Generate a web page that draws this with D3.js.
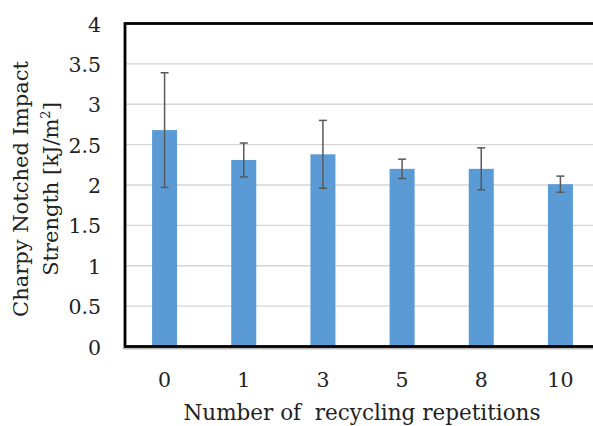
<!DOCTYPE html>
<html>
<head>
<meta charset="utf-8">
<script src="https://cdn.jsdelivr.net/npm/d3@7"></script>
<style>
  html, body { margin: 0; padding: 0; background: #fff; }
  svg { display: block; }
  text { font-family: "DejaVu Serif", "Liberation Serif", serif; fill: #222; }
</style>
</head>
<body>
<svg id="chart" width="593" height="426"></svg>
<script>
// Charpy notched impact strength after repeated recycling
const categories = ["0", "1", "3", "5", "8", "10"];
const strength   = [2.68, 2.31, 2.38, 2.20, 2.20, 2.01];
const errors     = [0.71, 0.21, 0.42, 0.12, 0.26, 0.10];
const yTicks     = [0, 0.5, 1, 1.5, 2, 2.5, 3, 3.5, 4];
const yTickLabels = ["0", "0.5", "1", "1.5", "2", "2.5", "3", "3.5", "4"];

const svg = d3.select("#chart");

const plot = { left: 125, right: 600, top: 23.5, bottom: 346.5 };

const x = d3.scaleBand()
  .domain(categories)
  .range([plot.left, plot.right])
  .paddingInner(0.684)
  .paddingOuter(0.342);

const y = d3.scaleLinear()
  .domain([0, 4])
  .range([plot.bottom, plot.top]);

// horizontal gridlines
svg.append("g")
  .selectAll("line")
  .data(yTicks.filter(t => t > 0 && t < 4))
  .join("line")
  .attr("x1", plot.left)
  .attr("x2", plot.right)
  .attr("y1", d => y(d))
  .attr("y2", d => y(d))
  .attr("stroke", "#d6d6d6")
  .attr("stroke-width", 1.3);

// bars
svg.append("g")
  .selectAll("rect")
  .data(strength)
  .join("rect")
  .attr("x", (d, i) => x(categories[i]))
  .attr("width", x.bandwidth())
  .attr("y", d => y(d))
  .attr("height", d => y(0) - y(d))
  .attr("fill", "#5b9bd5");

// error bars
const err = svg.append("g")
  .attr("stroke", "#595959")
  .attr("stroke-width", 1.5)
  .selectAll("g")
  .data(strength)
  .join("g");

const cx = i => x(categories[i]) + x.bandwidth() / 2;
err.append("line")
  .attr("x1", (d, i) => cx(i)).attr("x2", (d, i) => cx(i))
  .attr("y1", (d, i) => y(d + errors[i]))
  .attr("y2", (d, i) => y(d - errors[i]));
err.append("line")
  .attr("x1", (d, i) => cx(i) - 4).attr("x2", (d, i) => cx(i) + 4)
  .attr("y1", (d, i) => y(d + errors[i])).attr("y2", (d, i) => y(d + errors[i]));
err.append("line")
  .attr("x1", (d, i) => cx(i) - 4).attr("x2", (d, i) => cx(i) + 4)
  .attr("y1", (d, i) => y(d - errors[i])).attr("y2", (d, i) => y(d - errors[i]));

// plot frame: thick black border with a faint shadow line along the axes
svg.append("line")
  .attr("x1", plot.left - 2.5).attr("x2", plot.right)
  .attr("y1", plot.bottom + 2.3).attr("y2", plot.bottom + 2.3)
  .attr("stroke", "#9a9a9a").attr("stroke-width", 1);
svg.append("rect")
  .attr("x", plot.left)
  .attr("y", plot.top)
  .attr("width", plot.right - plot.left)
  .attr("height", plot.bottom - plot.top)
  .attr("fill", "none")
  .attr("stroke", "#000")
  .attr("stroke-width", 2.8);

// y tick labels
svg.append("g")
  .selectAll("text")
  .data(yTicks)
  .join("text")
  .attr("x", 101)
  .attr("y", d => y(d) + 8)
  .attr("text-anchor", "end")
  .attr("font-size", 20.5)
  .text((d, i) => yTickLabels[i]);

// x tick labels
svg.append("g")
  .selectAll("text")
  .data(categories)
  .join("text")
  .attr("x", d => x(d) + x.bandwidth() / 2)
  .attr("y", 386.5)
  .attr("text-anchor", "middle")
  .attr("font-size", 20.5)
  .text(d => d);

// x axis title
svg.append("text")
  .attr("x", 362)
  .attr("y", 420)
  .attr("text-anchor", "middle")
  .attr("font-size", 21.5)
  .attr("xml:space", "preserve")
  .text("Number of  recycling repetitions");

// y axis title (two lines)
const yTitle = svg.append("text")
  .attr("transform", "translate(0,189) rotate(-90)")
  .attr("text-anchor", "middle")
  .attr("font-size", 21);
yTitle.append("tspan")
  .attr("x", 0).attr("y", 28)
  .text("Charpy Notched Impact");
yTitle.append("tspan")
  .attr("x", 0).attr("y", 58)
  .text("Strength [kJ/m");
yTitle.append("tspan")
  .attr("dy", -8)
  .attr("font-size", 13)
  .text("2");
yTitle.append("tspan")
  .attr("dy", 8)
  .text("]");
</script>
</body>
</html>
